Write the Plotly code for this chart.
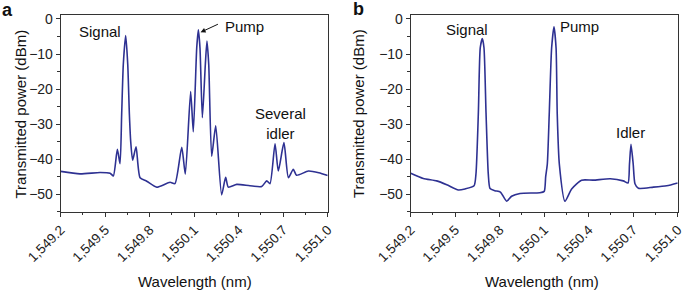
import plotly.graph_objects as go

# Panel a: wavelength (nm) and transmitted power (dBm)
wl_a = [1549.2, 1549.33, 1549.465, 1549.533, 1549.555, 1549.582, 1549.6, 1549.611,
        1549.622, 1549.638, 1549.652, 1549.663, 1549.672, 1549.685, 1549.708, 1549.735,
        1549.78, 1549.847, 1549.937, 1549.97, 1550.016, 1550.04, 1550.076, 1550.094,
        1550.117, 1550.128, 1550.139, 1550.155, 1550.175, 1550.186, 1550.198, 1550.218,
        1550.245, 1550.285, 1550.312, 1550.33, 1550.387, 1550.476, 1550.555, 1550.589,
        1550.611, 1550.645, 1550.667, 1550.705, 1550.735, 1550.768, 1550.79, 1550.87,
        1550.94, 1551.0]
pw_a = [-43.5, -44.2, -43.8, -44.0, -44.8, -37.2, -41.3, -27.2,
        -13.0, -4.7, -13.0, -27.2, -35.0, -40.3, -36.5, -45.3,
        -46.3, -48.0, -46.6, -47.0, -36.6, -44.3, -20.7, -32.2,
        -8.3, -3.1, -8.3, -28.2, -13.0, -6.3, -13.0, -39.2,
        -30.5, -50.2, -45.2, -48.0, -47.2, -47.6, -47.8, -46.2,
        -47.0, -35.6, -43.4, -35.3, -45.3, -42.9, -44.6, -43.4,
        -43.9, -44.7]

# Panel b
wl_b = [1549.2, 1549.285, 1549.375, 1549.443, 1549.521, 1549.566, 1549.627, 1549.64,
        1549.656, 1549.669, 1549.683, 1549.694, 1549.708, 1549.723, 1549.735, 1549.768,
        1549.805, 1549.847, 1549.88, 1549.937, 1550.07, 1550.1, 1550.11, 1550.121,
        1550.134, 1550.15, 1550.166, 1550.18, 1550.188, 1550.202, 1550.24, 1550.285,
        1550.352, 1550.43, 1550.545, 1550.633, 1550.665, 1550.675, 1550.685, 1550.7,
        1550.712, 1550.735, 1550.836, 1550.926, 1551.0]
pw_b = [-44.0, -45.5, -46.2, -47.3, -48.8, -48.5, -47.6, -44.2,
        -27.0, -8.2, -5.6, -8.2, -27.0, -44.2, -48.4, -49.0,
        -49.4, -52.0, -50.6, -49.8, -49.6, -49.2, -45.0, -41.4,
        -27.2, -8.3, -2.2, -8.3, -27.2, -41.4, -52.0, -48.5,
        -46.0, -46.0, -45.6, -46.2, -46.8, -41.4, -35.8, -41.4,
        -47.0, -48.3, -48.0, -47.6, -46.8]

xtick_vals = [1549.2, 1549.5, 1549.8, 1550.1, 1550.4, 1550.7, 1551.0]
xtick_text = ["1,549.2", "1,549.5", "1,549.8", "1,550.1", "1,550.4", "1,550.7", "1,551.0"]
ytick_vals = [0, -10, -20, -30, -40, -50]
ytick_text = ["0", "\u221210", "\u221220", "\u221230", "\u221240", "\u221250"]

LINE = "#2e3192"
FONT = "Liberation Sans, Arial, sans-serif"

fig = go.Figure()
fig.add_trace(go.Scatter(x=wl_a, y=pw_a, mode="lines", xaxis="x", yaxis="y",
                         line=dict(color=LINE, width=1.6, shape="spline", smoothing=0.6),
                         showlegend=False, hoverinfo="skip"))
fig.add_trace(go.Scatter(x=wl_b, y=pw_b, mode="lines", xaxis="x2", yaxis="y2",
                         line=dict(color=LINE, width=1.6, shape="spline", smoothing=0.6),
                         showlegend=False, hoverinfo="skip"))

xax = dict(range=[1549.2, 1551.0], tickvals=xtick_vals, ticktext=xtick_text,
           tickangle=-45, ticks="outside", ticklen=4, tickcolor="#333",
           showline=True, linecolor="#333", linewidth=1, mirror=True,
           showgrid=False, zeroline=False, automargin=False,
           tickfont=dict(size=13.5, color="#222", family=FONT),
           minor=dict(dtick=0.15, tick0=1549.2, ticks="outside", ticklen=2.5, tickcolor="#333"))
yax = dict(range=[-55, 1.05], tickvals=ytick_vals, ticktext=ytick_text,
           ticks="outside", ticklen=4, tickcolor="#333",
           showline=True, linecolor="#333", linewidth=1, mirror=True,
           showgrid=False, zeroline=False, automargin=False,
           tickfont=dict(size=14, color="#222", family=FONT),
           minor=dict(dtick=5, tick0=0, ticks="outside", ticklen=2.5, tickcolor="#333"))

ydom = [1 - 211.7 / 290, 1 - 15.3 / 290]
fig.update_layout(
    width=685, height=290,
    margin=dict(l=0, r=0, t=0, b=0),
    paper_bgcolor="white", plot_bgcolor="white",
    font=dict(family=FONT, color="#222"),
    xaxis=dict(xax, domain=[60.7 / 685, 327.7 / 685], anchor="y"),
    yaxis=dict(yax, domain=ydom, anchor="x"),
    xaxis2=dict(xax, domain=[410.7 / 685, 677.7 / 685], anchor="y2"),
    yaxis2=dict(yax, domain=ydom, anchor="x2"),
)

ann = []
def txt(x, y, s, size=15, bold=False, xanchor="center", yanchor="middle"):
    ann.append(dict(x=x, y=y, xref="paper", yref="paper", text=("<b>%s</b>" % s) if bold else s,
                    showarrow=False, xanchor=xanchor, yanchor=yanchor,
                    font=dict(size=size, family=FONT, color="#111")))

def px(x, y, s, size=15):
    txt(x / 685, 1 - y / 290, s, size)

# panel letters
txt(0 / 685, 1 - 10 / 290, "a", size=18, bold=True, xanchor="left")
txt(351 / 685, 1 - 9 / 290, "b", size=18, bold=True, xanchor="left")
# in-plot labels
px(100, 31.5, "Signal")
px(244, 26.5, "Pump")
px(280, 123, "Several<br>idler")
px(467, 29.5, "Signal")
px(579, 26.5, "Pump")
px(630, 133, "Idler")
# axis titles
px(195, 281, "Wavelength (nm)")
px(542, 281, "Wavelength (nm)")
for xp in (9, 358):
    ann.append(dict(x=xp / 685, y=1 - 114 / 290, xref="paper", yref="paper",
                    text="Transmitted power (dBm)", textangle=-90, showarrow=False,
                    font=dict(size=15, family=FONT, color="#111")))
# pump arrow (panel a)
ann.append(dict(x=1550.143, y=-3.8, xref="x", yref="y", text="", showarrow=True,
                ax=1550.27, ay=-1.3, axref="x", ayref="y",
                arrowhead=2, arrowsize=1, arrowwidth=1, arrowcolor="#111"))
fig.update_layout(annotations=ann)

fig.write_html("out.html", config={"displayModeBar": False},
               post_script="document.body.style.margin='0';")
